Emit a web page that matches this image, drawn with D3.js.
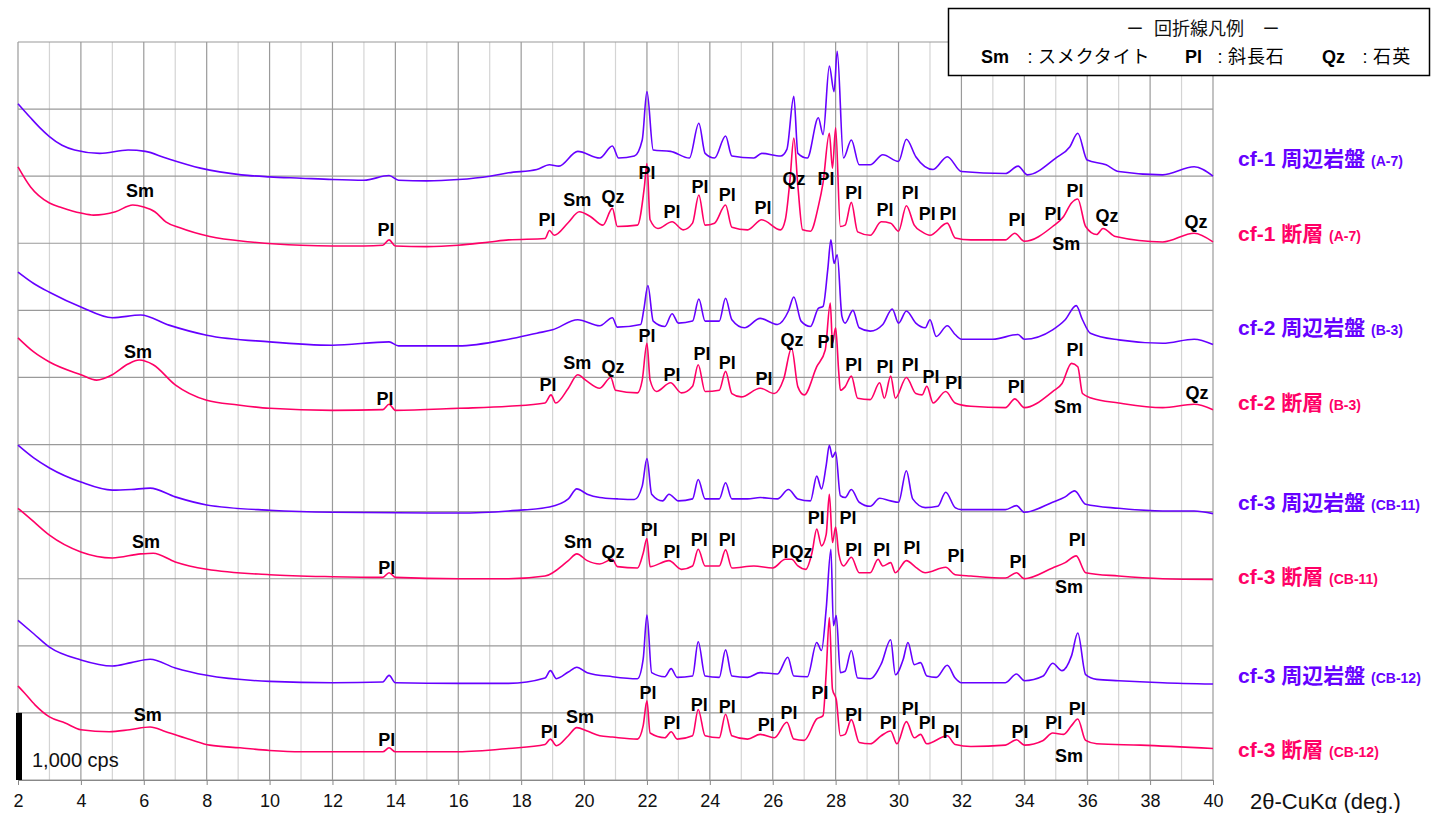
<!DOCTYPE html>
<html>
<head>
<meta charset="utf-8">
<script src="https://cdn.jsdelivr.net/npm/d3@7"></script>
<style>
  body { margin: 0; background: #fff; }
  svg { font-family: "Liberation Sans", Arial, "Noto Sans CJK JP", sans-serif; }
</style>
</head>
<body>
<div id="chart"></div>
<script>
// XRD patterns, 2θ (deg) vs stacked intensity (cps, with offset)
const cf1Rock = [[2.0,10080],[2.4,9870],[2.7,9720],[3.0,9590],[3.4,9460],[3.8,9390],[4.6,9340],[5.5,9390],[6.05,9370],[6.7,9270],[7.8,9120],[9.1,9020],[10,8990],[11,8970],[12,8950],[13,8940],[13.8,9010],[14.1,8940],[15,8930],[16,8950],[17,9000],[17.6,9050],[18.5,9100],[18.9,9170],[19.2,9150],[19.8,9370],[20.5,9270],[20.9,9450],[21.1,9270],[21.6,9300],[21.85,9540],[22.0,10260],[22.2,9390],[22.75,9370],[23.35,9270],[23.65,9790],[23.85,9340],[24.15,9270],[24.5,9600],[24.7,9300],[25.4,9270],[25.65,9340],[26.25,9300],[26.45,9400],[26.67,10190],[26.8,9340],[27.1,9270],[27.45,9870],[27.6,9620],[27.8,10640],[27.95,10260],[28.05,10860],[28.25,9270],[28.5,9540],[28.75,9170],[29.1,9170],[29.5,9320],[30.0,9220],[30.25,9550],[30.55,9290],[31.1,9100],[31.55,9290],[32.0,9070],[33.4,9040],[33.8,9150],[34.1,9020],[35.0,9270],[35.45,9440],[35.7,9640],[36.0,9240],[36.6,9170],[37.0,9070],[38.4,9020],[39.4,9140],[40.0,9000]];
const cf1Fault = [[2.0,9140],[2.4,8840],[3.0,8600],[3.4,8530],[4.0,8450],[4.4,8420],[5.1,8470],[5.65,8570],[6.0,8540],[6.35,8470],[6.7,8320],[7.15,8230],[8.1,8100],[9.4,8020],[11,7970],[12,7960],[13,7960],[13.6,7970],[13.8,8050],[14.0,7960],[15,7950],[16,7970],[17,8020],[17.6,8050],[18.76,8070],[18.9,8190],[19.05,8120],[19.5,8310],[19.85,8470],[20.2,8400],[20.6,8270],[20.9,8520],[21.06,8250],[21.7,8270],[21.92,8850],[22.0,9190],[22.1,8350],[22.35,8220],[22.8,8320],[23.15,8200],[23.45,8300],[23.65,8720],[23.85,8270],[24.15,8300],[24.5,8570],[24.7,8240],[25.2,8200],[25.65,8350],[26.25,8200],[26.4,8350],[26.55,8950],[26.67,9570],[26.8,8850],[26.95,8200],[27.2,8180],[27.45,8550],[27.6,8900],[27.8,9640],[27.9,9120],[28.0,9720],[28.15,8250],[28.3,8270],[28.5,8610],[28.7,8170],[29.1,8120],[29.45,8320],[29.75,8300],[30.0,8180],[30.25,8560],[30.5,8270],[30.75,8170],[31.0,8120],[31.55,8300],[31.8,8080],[32.3,8050],[33.4,8050],[33.7,8150],[34.0,8030],[34.9,8250],[35.25,8400],[35.5,8600],[35.7,8660],[35.95,8250],[36.3,8130],[36.5,8220],[36.9,8100],[38.4,8020],[39.4,8150],[40.0,8020]];
const cf2Rock = [[2.0,7570],[2.5,7400],[3.0,7270],[4.0,7050],[5.0,6890],[5.9,6930],[6.8,6780],[8.0,6630],[10,6530],[12,6480],[13.8,6530],[14.1,6470],[16,6470],[17.6,6570],[18.5,6660],[19.0,6710],[19.8,6860],[20.5,6770],[20.9,6890],[21.06,6750],[21.8,6790],[21.9,7010],[22.03,7370],[22.2,6840],[22.57,6760],[22.8,6950],[23.0,6810],[23.45,6840],[23.65,7170],[23.85,6840],[24.3,6840],[24.5,7180],[24.7,6860],[25.1,6740],[25.6,6880],[26.15,6790],[26.5,6990],[26.67,7200],[26.9,6840],[27.2,6760],[27.45,7030],[27.6,7060],[27.75,7610],[27.85,8050],[27.95,7700],[28.05,7830],[28.2,6910],[28.3,6810],[28.55,7000],[28.75,6740],[29.1,6690],[29.5,6790],[29.8,7020],[30.0,6810],[30.25,6990],[30.55,6810],[30.85,6740],[31.0,6860],[31.2,6610],[31.55,6770],[31.8,6640],[32.0,6570],[33.0,6570],[33.8,6640],[34.0,6570],[34.9,6710],[35.3,6860],[35.65,7070],[35.85,6860],[36.1,6660],[37.0,6560],[38.4,6510],[39.4,6570],[40.0,6490]];
const cf2Fault = [[2.0,6590],[2.5,6380],[3.0,6230],[4.0,6040],[4.5,5960],[5.0,6040],[5.5,6200],[5.85,6260],[6.3,6190],[7.0,5890],[8.0,5660],[9.0,5590],[10,5540],[12,5510],[13.6,5520],[13.8,5600],[14.0,5510],[16,5540],[17.6,5570],[18.76,5620],[18.95,5740],[19.1,5620],[19.5,5840],[19.8,6040],[20.05,5960],[20.5,5840],[20.85,6000],[21.0,5810],[21.7,5770],[21.85,5960],[22.0,6510],[22.1,5960],[22.3,5790],[22.75,5920],[23.1,5770],[23.45,5870],[23.63,6190],[23.85,5790],[24.3,5810],[24.5,6090],[24.7,5760],[25.0,5710],[25.6,5840],[26.05,5760],[26.35,5980],[26.6,6440],[26.8,5860],[27.0,5740],[27.4,6160],[27.67,6410],[27.83,7110],[27.9,6510],[28.0,6740],[28.1,6070],[28.15,5810],[28.3,5860],[28.5,6020],[28.7,5690],[29.1,5670],[29.4,5920],[29.55,5690],[29.75,6020],[29.9,5690],[30.25,6000],[30.55,5760],[30.75,5740],[30.9,5870],[31.1,5620],[31.5,5790],[31.8,5620],[32.3,5570],[33.4,5550],[33.7,5680],[34.0,5550],[34.9,5790],[35.2,5910],[35.5,6210],[35.7,6160],[35.85,5760],[36.15,5690],[37.0,5620],[38.4,5550],[39.4,5600],[40.0,5520]];
const cf3Rock11 = [[2.0,4990],[2.5,4800],[3.0,4650],[4.0,4440],[5.0,4320],[5.6,4330],[6.2,4350],[7.0,4220],[8.0,4100],[10,4020],[12,3990],[16,3980],[17.6,4010],[18.9,4070],[19.5,4190],[19.77,4340],[20.1,4260],[20.5,4210],[21.06,4190],[21.6,4180],[21.85,4380],[22.0,4790],[22.15,4260],[22.5,4160],[22.7,4260],[23.0,4160],[23.45,4190],[23.63,4480],[23.85,4190],[24.3,4190],[24.5,4430],[24.7,4190],[25.2,4190],[25.6,4210],[26.15,4190],[26.5,4330],[26.8,4190],[27.2,4160],[27.4,4530],[27.55,4340],[27.7,4690],[27.8,4990],[27.9,4810],[28.0,4890],[28.15,4240],[28.3,4210],[28.5,4330],[28.75,4140],[29.1,4080],[29.4,4200],[29.75,4160],[30.0,4140],[30.25,4610],[30.45,4190],[30.85,4060],[31.25,4080],[31.5,4290],[31.8,4060],[32.0,4030],[33.4,4030],[33.75,4090],[34.0,3990],[34.9,4140],[35.3,4220],[35.6,4310],[35.95,4110],[37.0,4050],[38.4,4010],[39.4,4010],[40.0,3970]];
const cf3Fault11 = [[2.0,4050],[2.5,3850],[3.0,3650],[4.0,3400],[5.0,3310],[5.9,3370],[6.3,3380],[7.0,3250],[8.0,3140],[10,3060],[12,3030],[13.6,3020],[13.8,3090],[14.0,3020],[16,3000],[17.6,3000],[18.76,3040],[19.5,3270],[19.77,3370],[20.1,3270],[20.5,3220],[20.9,3290],[21.06,3180],[21.7,3160],[21.88,3380],[22.0,3600],[22.1,3180],[22.7,3270],[23.1,3140],[23.45,3190],[23.63,3440],[23.85,3190],[24.3,3190],[24.5,3430],[24.7,3160],[25.4,3190],[26.0,3160],[26.4,3290],[26.6,3290],[26.8,3190],[27.05,3140],[27.25,3390],[27.4,3740],[27.55,3490],[27.7,3660],[27.8,4260],[27.9,3540],[28.0,3770],[28.1,3370],[28.25,3190],[28.5,3320],[28.75,3090],[29.1,3090],[29.35,3290],[29.5,3190],[29.75,3240],[29.9,3090],[30.25,3270],[30.55,3170],[30.85,3090],[31.5,3170],[31.8,3060],[32.3,3040],[33.4,3010],[33.75,3090],[34.0,3000],[34.9,3160],[35.3,3240],[35.65,3340],[35.95,3090],[37.0,3040],[38.4,3000],[40.0,2990]];
const cf3Rock12 = [[2.0,2380],[2.5,2180],[3.0,1980],[4.0,1790],[5.0,1700],[5.6,1750],[6.2,1800],[7.0,1670],[8.0,1560],[10,1470],[12,1450],[13.6,1460],[13.8,1560],[14.0,1450],[16,1440],[17.6,1440],[18.76,1520],[18.93,1630],[19.12,1510],[19.5,1610],[19.77,1680],[20.1,1600],[20.9,1540],[21.7,1510],[21.88,1800],[22.0,2460],[22.15,1600],[22.57,1540],[22.77,1660],[22.96,1530],[23.45,1550],[23.63,2060],[23.85,1550],[24.3,1530],[24.5,1940],[24.7,1550],[25.2,1530],[25.6,1600],[26.15,1580],[26.48,1830],[26.67,1550],[27.1,1540],[27.4,2050],[27.55,1930],[27.7,2550],[27.85,3440],[27.93,2300],[28.02,2450],[28.15,1600],[28.3,1620],[28.5,1930],[28.7,1520],[29.1,1510],[29.45,1730],[29.75,2090],[29.9,1570],[30.15,1800],[30.3,2050],[30.5,1720],[30.7,1750],[30.9,1550],[31.2,1530],[31.55,1710],[31.8,1520],[32.0,1450],[33.4,1450],[33.75,1580],[34.0,1480],[34.6,1550],[34.9,1740],[35.2,1630],[35.5,1850],[35.7,2190],[35.95,1570],[36.3,1500],[37.0,1480],[38.4,1450],[40.0,1430]];
const cf3Fault12 = [[2.0,1400],[2.2,1300],[2.54,1120],[3.0,940],[3.5,850],[4.0,750],[4.9,720],[5.55,750],[6.2,790],[6.7,720],[7.5,600],[8.1,520],[9.06,480],[10,440],[11,420],[12,420],[13.6,420],[13.8,480],[14.0,420],[16,420],[17.6,470],[18.76,530],[18.93,610],[19.12,510],[19.5,660],[19.77,780],[20.1,730],[20.5,660],[20.9,640],[21.7,610],[21.88,810],[22.0,1180],[22.1,700],[22.57,630],[22.77,720],[22.96,610],[23.45,660],[23.63,1050],[23.85,660],[24.3,630],[24.5,980],[24.7,660],[25.2,610],[25.6,680],[26.05,630],[26.45,860],[26.67,610],[27.0,590],[27.4,910],[27.6,960],[27.7,1600],[27.8,2420],[27.9,1350],[28.02,1200],[28.15,660],[28.3,680],[28.5,900],[28.75,560],[29.1,540],[29.45,660],[29.75,730],[29.95,540],[30.25,870],[30.5,630],[30.7,680],[30.9,540],[31.55,660],[31.8,530],[32.3,500],[33.4,520],[33.75,600],[34.0,520],[34.6,590],[34.9,700],[35.25,680],[35.5,810],[35.7,910],[35.95,590],[36.3,540],[37.7,520],[40.0,470]];

const seriesData = [cf1Rock, cf1Fault, cf2Rock, cf2Fault, cf3Rock11, cf3Fault11, cf3Rock12, cf3Fault12];
const seriesNames = ["cf-1 周辺岩盤", "cf-1 断層", "cf-2 周辺岩盤", "cf-2 断層", "cf-3 周辺岩盤", "cf-3 断層", "cf-3 周辺岩盤", "cf-3 断層"];
const seriesIds = ["(A-7)", "(A-7)", "(B-3)", "(B-3)", "(CB-11)", "(CB-11)", "(CB-12)", "(CB-12)"];
const seriesLabelLevel = [9270, 8150, 6750, 5630, 4130, 3040, 1565, 450];
const seriesColors = ["#6600ff", "#ff0066", "#6600ff", "#ff0066", "#6600ff", "#ff0066", "#6600ff", "#ff0066"];

// peak labels [2θ, cps, mineral]
const peaksCf1 = [[5.88,8790,"Sm"],[13.70,8210,"Pl"],[18.82,8360,"Pl"],[19.78,8650,"Sm"],[20.92,8700,"Qz"],[22.00,9060,"Pl"],[22.80,8470,"Pl"],[23.69,8850,"Pl"],[24.55,8720,"Pl"],[25.69,8540,"Pl"],[26.68,8970,"Qz"],[27.69,8960,"Pl"],[28.58,8750,"Pl"],[29.57,8500,"Pl"],[30.37,8750,"Pl"],[30.91,8450,"Pl"],[31.57,8450,"Pl"],[33.77,8350,"Pl"],[34.91,8450,"Pl"],[35.61,8790,"Pl"],[35.33,7990,"Sm"],[36.63,8420,"Qz"],[39.46,8330,"Qz"]];
const peaksCf2 = [[5.82,6380,"Sm"],[13.67,5690,"Pl"],[18.85,5890,"Pl"],[19.78,6220,"Sm"],[20.92,6170,"Qz"],[22.00,6620,"Pl"],[22.80,6050,"Pl"],[23.75,6350,"Pl"],[24.55,6220,"Pl"],[25.72,5990,"Pl"],[26.61,6570,"Qz"],[27.69,6530,"Pl"],[28.58,6200,"Pl"],[29.57,6170,"Pl"],[30.37,6190,"Pl"],[31.03,6010,"Pl"],[31.76,5930,"Pl"],[33.74,5870,"Pl"],[35.61,6410,"Pl"],[35.39,5560,"Sm"],[39.49,5770,"Qz"]];
const peaksCf3a = [[6.07,3560,"Sm"],[13.73,3160,"Pl"],[19.81,3560,"Sm"],[20.92,3410,"Qz"],[22.07,3730,"Pl"],[22.80,3400,"Pl"],[23.66,3580,"Pl"],[24.55,3580,"Pl"],[26.23,3400,"Pl"],[26.90,3400,"Qz"],[27.38,3910,"Pl"],[28.39,3910,"Pl"],[28.58,3440,"Pl"],[29.47,3440,"Pl"],[30.43,3460,"Pl"],[31.83,3340,"Pl"],[33.80,3250,"Pl"],[35.68,3580,"Pl"],[35.42,2890,"Sm"]];
const peaksCf3b = [[6.13,980,"Sm"],[13.73,610,"Pl"],[18.89,730,"Pl"],[19.87,950,"Sm"],[22.03,1300,"Pl"],[22.80,860,"Pl"],[23.66,1120,"Pl"],[24.55,1100,"Pl"],[25.79,820,"Pl"],[26.52,1000,"Pl"],[27.50,1310,"Pl"],[28.58,980,"Pl"],[29.67,850,"Pl"],[30.37,1060,"Pl"],[30.91,850,"Pl"],[31.67,730,"Pl"],[33.86,720,"Pl"],[34.94,850,"Pl"],[35.68,1070,"Pl"],[35.42,360,"Sm"]];
const peakLabels = [].concat(peaksCf1, peaksCf2, peaksCf3a, peaksCf3b);

const xTicks = d3.range(2, 41, 2);
const legendItems = [["Sm", "スメクタイト"], ["Pl", "斜長石"], ["Qz", "石英"]];

const width = 1431, height = 813;
const margin = {left: 18, top: 42, right: 218, bottom: 33};

const svg = d3.select("#chart").append("svg")
  .attr("width", width)
  .attr("height", height);

const x = d3.scaleLinear().domain([2, 40]).range([margin.left, width - margin.right]);
const y = d3.scaleLinear().domain([0, 11000]).range([height - margin.bottom, margin.top]);

// grid
const grid = svg.append("g");
grid.selectAll("line.minor")
  .data(d3.range(3, 40, 2))
  .enter().append("line")
  .attr("x1", d => x(d)).attr("x2", d => x(d))
  .attr("y1", y(0)).attr("y2", y(11000))
  .attr("stroke", "#d4d4d4").attr("stroke-width", 1.2);
grid.selectAll("line.major")
  .data(xTicks)
  .enter().append("line")
  .attr("x1", d => x(d)).attr("x2", d => x(d))
  .attr("y1", y(0)).attr("y2", y(11000))
  .attr("stroke", "#9a9a9a").attr("stroke-width", 1.2);
grid.selectAll("line.h")
  .data(d3.range(0, 11001, 1000))
  .enter().append("line")
  .attr("x1", x(2)).attr("x2", x(40))
  .attr("y1", d => y(d)).attr("y2", d => y(d))
  .attr("stroke", "#9a9a9a").attr("stroke-width", 1.2);

// x axis
const xAxis = svg.append("g")
  .attr("transform", `translate(0,${y(0)})`)
  .call(d3.axisBottom(x).tickValues(xTicks).tickSize(5).tickPadding(9))
  .style("font-family", "'Liberation Sans', Arial, sans-serif")
  .style("font-size", "18px");
xAxis.select(".domain").attr("stroke", "#888");
xAxis.selectAll(".tick line").attr("stroke", "#888");
xAxis.selectAll(".tick text").attr("fill", "#111");

svg.append("text")
  .attr("x", x(40) + 37).attr("y", y(0) + 29)
  .style("font-size", "22px")
  .attr("fill", "#111")
  .text("2θ-CuKα (deg.)");

// traces
const line = d3.line().x(d => x(d[0])).y(d => y(d[1])).curve(d3.curveMonotoneX);
svg.append("g")
  .attr("fill", "none")
  .attr("stroke-width", 1.6)
  .attr("stroke-linejoin", "round")
  .selectAll("path")
  .data(seriesData)
  .enter().append("path")
  .attr("stroke", (d, i) => seriesColors[i])
  .attr("d", line);

// peak labels
svg.append("g")
  .selectAll("text")
  .data(peakLabels)
  .enter().append("text")
  .attr("x", d => x(d[0]))
  .attr("y", d => y(d[1]))
  .attr("dy", "0.36em")
  .attr("text-anchor", "middle")
  .style("font-size", "18px")
  .style("font-weight", "bold")
  .attr("fill", "#000")
  .text(d => d[2]);

// series names on the right
const names = svg.append("g")
  .selectAll("text")
  .data(seriesNames)
  .enter().append("text")
  .attr("x", x(40) + 25)
  .attr("y", (d, i) => y(seriesLabelLevel[i]))
  .attr("dy", "0.36em")
  .attr("fill", (d, i) => seriesColors[i])
  .style("font-weight", "bold")
  .style("font-size", "21px");
names.append("tspan").text(d => d + " ");
names.append("tspan")
  .style("font-size", "14px")
  .text((d, i) => seriesIds[i]);

// 1,000 cps scale bar
svg.append("rect")
  .attr("x", x(2) - 2).attr("width", 6)
  .attr("y", y(1000)).attr("height", y(0) - y(1000))
  .attr("fill", "#000");
svg.append("text")
  .attr("x", x(2) + 14).attr("y", y(200))
  .style("font-size", "20px")
  .attr("fill", "#111")
  .text("1,000 cps");

// legend box
const lg = svg.append("g");
lg.append("rect")
  .attr("x", 948.5).attr("y", 8.5)
  .attr("width", 481).attr("height", 67)
  .attr("fill", "#fff").attr("stroke", "#000").attr("stroke-width", 1.5);
lg.append("text")
  .attr("x", 1135).attr("y", 35)
  .attr("text-anchor", "middle")
  .style("font-size", "17px")
  .attr("fill", "#111")
  .text("ー");
lg.append("text")
  .attr("x", 1199).attr("y", 35)
  .attr("text-anchor", "middle")
  .style("font-size", "18px")
  .attr("fill", "#111")
  .text("回折線凡例");
lg.append("text")
  .attr("x", 1271).attr("y", 35)
  .attr("text-anchor", "middle")
  .style("font-size", "17px")
  .attr("fill", "#111")
  .text("ー");
const legX = [981, 1185, 1322];
const legColonX = [1030, 1220, 1365];
legendItems.forEach((it, i) => {
  lg.append("text").attr("x", legX[i]).attr("y", 63)
    .style("font-size", "18px").style("font-weight", "bold").attr("fill", "#000")
    .text(it[0]);
  lg.append("text").attr("x", legColonX[i]).attr("y", 63)
    .attr("text-anchor", "middle")
    .style("font-size", "18px").attr("fill", "#000")
    .text(":");
  lg.append("text").attr("x", legColonX[i] + 8).attr("y", 63)
    .style("font-size", "18px").attr("fill", "#000")
    .attr("textLength", it[1].length * 18.6)
    .text(it[1]);
});
</script>
</body>
</html>
